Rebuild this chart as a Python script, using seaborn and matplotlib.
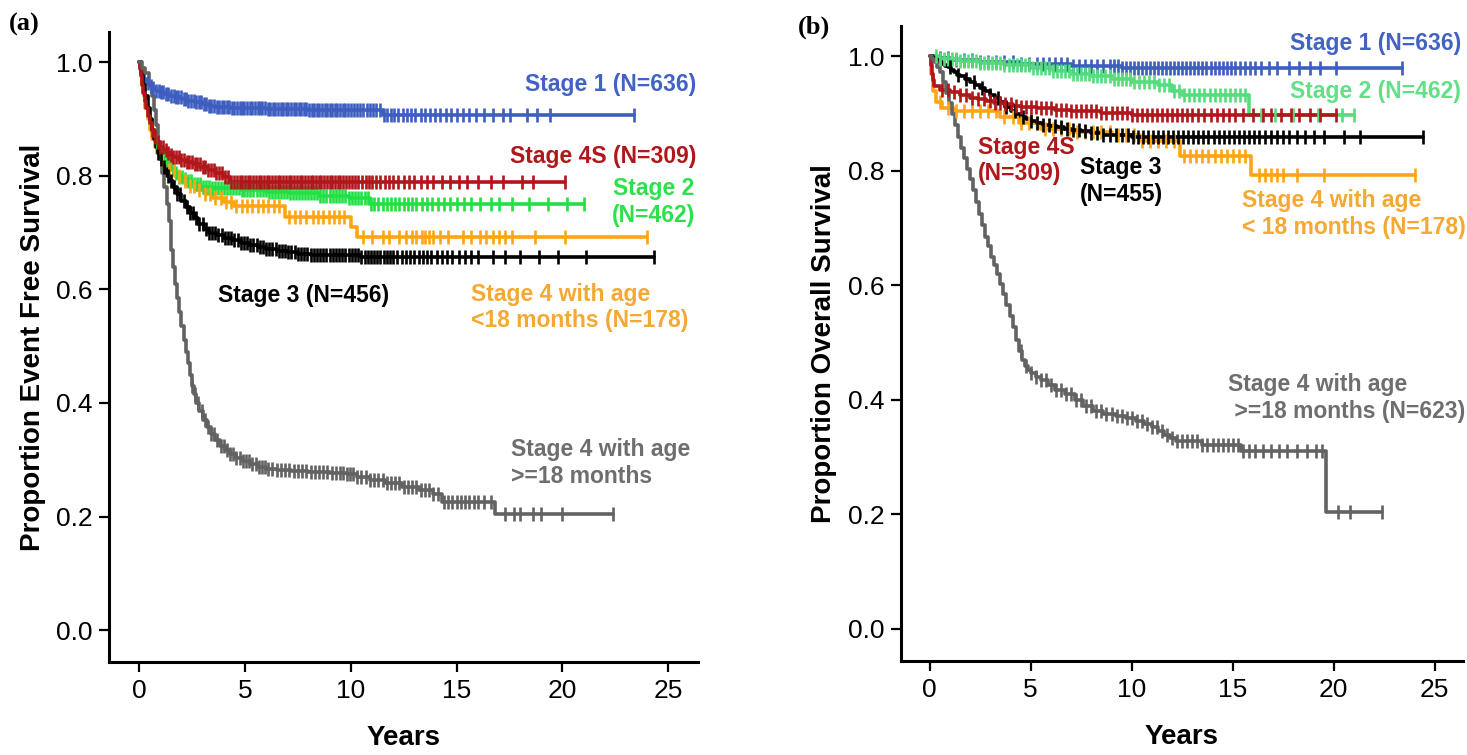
import numpy as np
import matplotlib
matplotlib.use("Agg")
import matplotlib.pyplot as plt
import seaborn as sns

# ---- panel (a): event free survival, step points ----
a_blue_t = [0, 0.05, 0.1, 0.18, 0.25, 0.35, 0.5, 0.65, 0.8, 1.0, 1.2, 1.45, 1.7, 2.0, 2.3, 2.65, 3.0,
            3.3, 3.6, 4.3, 5.0, 6.0, 7.0, 8.0, 9.0, 11.5]
a_blue_s = [1.0, 0.992, 0.985, 0.977, 0.97, 0.964, 0.958, 0.954, 0.95, 0.947, 0.944, 0.941, 0.938,
            0.935, 0.932, 0.929, 0.926, 0.923, 0.921, 0.92, 0.919, 0.918, 0.917, 0.916, 0.915, 0.907]
a_blue_c = [0.42, 0.55, 0.68, 0.8, 0.93, 1.02, 1.15, 1.27, 1.38, 1.5, 1.63, 1.74, 1.86, 1.97, 2.1, 2.22,
            2.33, 2.46, 2.58, 2.7, 2.81, 2.93, 3.06, 3.18, 3.3, 3.41, 3.55, 3.67, 3.78, 3.9, 4.03, 4.15,
            4.27, 4.38, 4.5, 4.63, 4.75, 4.86, 4.98, 5.11, 5.23, 5.35, 5.46, 5.6, 5.72, 5.83, 5.95, 6.08,
            6.2, 6.32, 6.43, 6.57, 6.69, 6.8, 6.92, 7.05, 7.17, 7.3, 7.42, 7.54, 7.66, 7.79, 7.9, 8.02,
            8.15, 8.27, 8.4, 8.52, 8.63, 8.76, 8.88, 9.0, 9.13, 9.25, 9.37, 9.5, 9.62, 9.75, 9.88, 10.0,
            10.15, 10.3, 10.44, 10.6, 10.75, 10.9, 11.05, 11.2, 11.38, 11.55, 11.7, 11.88, 12.05, 12.25,
            12.45, 12.65, 12.85, 13.05, 13.3, 13.5, 13.75, 14.0, 14.2, 14.5, 14.75, 15.0, 15.3, 15.6,
            15.9, 16.3, 16.7, 17.2, 17.5, 18.3, 18.8, 19.4, 23.4]

a_red_t = [0, 0.05, 0.1, 0.15, 0.2, 0.28, 0.35, 0.43, 0.52, 0.62, 0.75, 0.87, 1.0, 1.15, 1.3, 1.45,
           1.6, 1.9, 2.2, 2.55, 2.9, 3.25, 3.6, 3.95, 4.3]
a_red_s = [1.0, 0.988, 0.975, 0.96, 0.945, 0.932, 0.92, 0.906, 0.893, 0.88, 0.868, 0.859, 0.851, 0.845,
           0.84, 0.836, 0.833, 0.828, 0.824, 0.82, 0.816, 0.81, 0.805, 0.797, 0.789]
a_red_c = [0.62, 0.75, 0.88, 1.0, 1.12, 1.25, 1.37, 1.5, 1.62, 1.75, 1.87, 2.0, 2.12, 2.25, 2.38, 2.5,
           2.63, 2.76, 2.88, 3.0, 3.13, 3.26, 3.4, 3.52, 3.65, 3.78, 3.9, 4.05, 4.2, 4.35, 4.5, 4.62, 4.75,
           4.88, 5.0, 5.13, 5.26, 5.4, 5.52, 5.65, 5.78, 5.9, 6.03, 6.16, 6.3, 6.42, 6.55, 6.68, 6.8, 6.93,
           7.06, 7.2, 7.32, 7.45, 7.58, 7.7, 7.83, 7.96, 8.1, 8.22, 8.35, 8.48, 8.6, 8.73, 8.86, 9.0, 9.12,
           9.25, 9.38, 9.5, 9.64, 9.78, 9.9, 10.05, 10.2, 10.36, 10.52, 10.7, 10.86, 11.0, 11.2, 11.4,
           11.6, 11.8, 12.0, 12.25, 12.5, 12.75, 13.0, 13.3, 13.6, 13.9, 14.3, 14.7, 15.1, 15.5, 16.0,
           16.6, 17.2, 18.1, 18.6, 20.1]

a_green_t = [0, 0.08, 0.15, 0.22, 0.3, 0.4, 0.5, 0.62, 0.75, 0.87, 1.0, 1.1, 1.2, 1.35, 1.5, 1.65, 1.8,
             2.05, 2.3, 2.6, 2.9, 3.4, 3.8, 4.8, 6.0, 7.1, 8.5, 9.9, 10.9]
a_green_s = [1.0, 0.98, 0.96, 0.943, 0.925, 0.907, 0.89, 0.875, 0.86, 0.85, 0.84, 0.833, 0.827, 0.82,
             0.812, 0.805, 0.798, 0.794, 0.79, 0.785, 0.781, 0.779, 0.778, 0.775, 0.772, 0.769, 0.765,
             0.76, 0.751]
a_green_c = [0.85, 1.0, 1.15, 1.3, 1.45, 1.6, 1.75, 1.9, 2.03, 2.17, 2.3, 2.45, 2.6, 2.74, 2.88, 3.02,
             3.16, 3.3, 3.44, 3.58, 3.72, 3.86, 4.0, 4.14, 4.28, 4.42, 4.56, 4.7, 4.84, 4.98, 5.12, 5.26,
             5.4, 5.55, 5.7, 5.84, 5.98, 6.12, 6.26, 6.4, 6.55, 6.7, 6.84, 6.98, 7.12, 7.26, 7.4, 7.55,
             7.7, 7.84, 7.98, 8.12, 8.27, 8.42, 8.56, 8.7, 8.85, 9.0, 9.15, 9.3, 9.45, 9.6, 9.75, 9.9,
             10.05, 10.2, 10.35, 10.5, 10.65, 10.8, 10.95, 11.1, 11.3, 11.5, 11.7, 11.9, 12.1, 12.3, 12.5,
             12.7, 12.9, 13.1, 13.35, 13.6, 13.85, 14.1, 14.4, 14.7, 15.0, 15.35, 15.7, 16.1, 16.6, 17.0,
             17.6, 18.4, 19.3, 20.2, 21.0]

a_orange_t = [0, 0.08, 0.15, 0.22, 0.3, 0.4, 0.5, 0.62, 0.75, 0.87, 1.0, 1.2, 1.4, 1.7, 2.0, 2.35, 2.7,
              3.1, 3.5, 4.0, 4.5, 6.9, 10.0, 10.3]
a_orange_s = [1.0, 0.98, 0.96, 0.94, 0.92, 0.9, 0.88, 0.865, 0.85, 0.84, 0.83, 0.82, 0.81, 0.8, 0.79,
              0.782, 0.775, 0.768, 0.76, 0.753, 0.746, 0.728, 0.71, 0.692]
a_orange_c = [1.1, 1.4, 1.65, 1.9, 2.15, 2.4, 2.6, 2.85, 3.1, 3.35, 3.6, 3.85, 4.1, 4.35, 4.6, 4.85,
              5.1, 5.35, 5.6, 5.85, 6.1, 6.35, 6.6, 7.1, 7.35, 7.6, 7.9, 8.2, 8.45, 8.7, 8.95, 9.2, 9.45,
              9.7, 10.6, 11.0, 11.5, 11.8, 12.3, 12.6, 12.9, 13.1, 13.35, 13.5, 13.7, 13.9, 14.2, 14.6,
              15.3, 15.7, 16.1, 16.4, 16.7, 17.0, 17.3, 17.6, 18.7, 20.1, 24.0]

a_black_t = [0, 0.1, 0.2, 0.3, 0.4, 0.5, 0.6, 0.7, 0.8, 0.9, 1.0, 1.15, 1.3, 1.45, 1.6, 1.8, 2.0, 2.2,
             2.4, 2.6, 2.8, 3.05, 3.3, 3.65, 4.0, 4.4, 4.8, 5.2, 5.6, 6.0, 6.5, 7.0, 7.5, 8.1, 8.7, 10.5]
a_black_s = [1.0, 0.98, 0.96, 0.94, 0.92, 0.9, 0.88, 0.865, 0.85, 0.84, 0.83, 0.815, 0.80, 0.79, 0.78,
             0.767, 0.755, 0.745, 0.735, 0.725, 0.715, 0.707, 0.70, 0.695, 0.69, 0.686, 0.682, 0.678,
             0.675, 0.671, 0.668, 0.665, 0.663, 0.661, 0.66, 0.657]
a_black_c = [0.9, 1.05, 1.2, 1.35, 1.5, 1.65, 1.8, 1.95, 2.1, 2.25, 2.4, 2.55, 2.7, 2.85, 3.0, 3.15, 3.3,
             3.45, 3.6, 3.75, 3.9, 4.05, 4.2, 4.35, 4.5, 4.65, 4.8, 4.95, 5.1, 5.25, 5.4, 5.55, 5.7, 5.85,
             6.0, 6.15, 6.3, 6.45, 6.6, 6.75, 6.9, 7.05, 7.2, 7.35, 7.5, 7.65, 7.8, 7.95, 8.1, 8.25, 8.4,
             8.55, 8.7, 8.85, 9.0, 9.15, 9.3, 9.45, 9.6, 9.75, 9.9, 10.05, 10.2, 10.35, 10.5, 10.65, 10.8,
             10.95, 11.1, 11.25, 11.4, 11.55, 11.7, 11.85, 12.0, 12.2, 12.4, 12.6, 12.8, 13.0, 13.2, 13.4,
             13.6, 13.8, 14.05, 14.3, 14.55, 14.8, 15.1, 15.4, 15.7, 16.0, 16.7, 17.3, 18.0, 18.9, 19.8,
             21.1, 24.3]

a_gray_t = [0, 0.15, 0.3, 0.45, 0.6, 0.7, 0.8, 0.9, 1.0, 1.1, 1.2, 1.3, 1.4, 1.5, 1.6, 1.7, 1.8, 1.9,
            2.0, 2.1, 2.2, 2.3, 2.4, 2.5, 2.6, 2.7, 2.85, 3.0, 3.2, 3.4, 3.6, 3.8, 4.05, 4.3, 4.6, 4.9,
            5.25, 5.6, 6.0, 6.5, 7.2, 8.0, 9.0, 9.8, 10.3, 10.9, 11.6, 12.4, 13.2, 13.9, 14.3, 16.8]
a_gray_s = [1.0, 0.99, 0.98, 0.96, 0.94, 0.915, 0.89, 0.86, 0.835, 0.805, 0.78, 0.75, 0.72, 0.67,
            0.64, 0.61, 0.585, 0.56, 0.535, 0.51, 0.49, 0.47, 0.45, 0.43, 0.415, 0.40, 0.385, 0.37,
            0.357, 0.345, 0.335, 0.325, 0.317, 0.31, 0.303, 0.297, 0.292, 0.287, 0.284, 0.282, 0.28,
            0.279, 0.277, 0.275, 0.27, 0.265, 0.259, 0.252, 0.247, 0.24, 0.226, 0.204]
a_gray_c = [2.5, 2.65, 2.8, 2.95, 3.1, 3.25, 3.4, 3.55, 3.7, 3.85, 4.0, 4.15, 4.3, 4.45, 4.6, 4.75, 4.9,
            5.05, 5.2, 5.35, 5.5, 5.65, 5.8, 5.95, 6.1, 6.3, 6.5, 6.7, 6.9, 7.1, 7.3, 7.5, 7.7, 7.9, 8.1,
            8.3, 8.5, 8.7, 8.9, 9.1, 9.3, 9.5, 9.65, 9.8, 9.95, 10.1, 10.3, 10.5, 10.7, 10.9, 11.1, 11.3,
            11.5, 11.7, 11.9, 12.1, 12.3, 12.5, 12.7, 12.9, 13.1, 13.3, 13.5, 13.7, 13.9, 14.1, 14.4,
            14.6, 14.8, 15.0, 15.2, 15.4, 15.6, 15.8, 16.0, 16.3, 16.6, 17.3, 17.7, 18.0, 18.6, 19.0,
            20.0, 22.4]

# ---- panel (b): overall survival ----
b_blue_t = [0, 0.3, 1.0, 2.5, 4.5, 7.0, 9.5]
b_blue_s = [1.0, 0.997, 0.994, 0.99, 0.987, 0.984, 0.979]
b_blue_c = [0.5, 0.9, 1.3, 1.7, 2.1, 2.5, 2.9, 3.3, 3.7, 4.1, 4.5, 4.9, 5.3, 5.6, 5.9, 6.2, 6.5, 6.8,
            7.1, 7.4, 7.7, 8.0, 8.3, 8.6, 8.9, 9.1, 9.3, 9.5, 9.7, 9.9, 10.1, 10.3, 10.5, 10.7, 10.9,
            11.1, 11.3, 11.5, 11.7, 11.9, 12.1, 12.3, 12.5, 12.7, 12.9, 13.1, 13.3, 13.5, 13.7, 13.9,
            14.1, 14.3, 14.5, 14.7, 14.9, 15.1, 15.35, 15.6, 15.85, 16.1, 16.4, 16.8, 17.2, 17.8, 18.3,
            18.8, 19.3, 20.1, 23.4]

b_green_t = [0, 0.5, 1.5, 2.5, 3.7, 5.0, 6.1, 7.0, 8.0, 9.0, 10.0, 11.3, 12.0, 12.5, 15.8]
b_green_s = [1.0, 0.996, 0.992, 0.988, 0.985, 0.98, 0.974, 0.97, 0.965, 0.96, 0.956, 0.95, 0.94, 0.932, 0.898]
b_green_c = [0.3, 0.5, 0.7, 0.9, 1.1, 1.3, 1.5, 1.7, 1.9, 2.1, 2.3, 2.5, 2.7, 2.9, 3.1, 3.3, 3.5, 3.7,
             3.9, 4.1, 4.3, 4.5, 4.7, 4.9, 5.1, 5.3, 5.5, 5.7, 5.9, 6.1, 6.3, 6.5, 6.7, 6.9, 7.1, 7.3,
             7.5, 7.7, 7.9, 8.1, 8.3, 8.5, 8.7, 8.9, 9.1, 9.3, 9.5, 9.7, 9.9, 10.1, 10.35, 10.6, 10.85,
             11.1, 11.35, 11.6, 11.85, 12.1, 12.35, 12.6, 12.85, 13.1, 13.35, 13.6, 13.85, 14.1, 14.35,
             14.6, 14.85, 15.1, 15.35, 15.6, 16.4, 17.1, 18.0, 19.2, 20.4, 21.0]

b_red_t = [0, 0.05, 0.1, 0.15, 0.2, 0.5, 1.0, 1.5, 2.0, 2.4, 2.8, 3.2, 3.7, 4.1, 4.5, 5.3, 6.2, 7.0,
           8.5, 10.0]
b_red_s = [1.0, 0.985, 0.97, 0.958, 0.948, 0.942, 0.938, 0.933, 0.928, 0.925, 0.922, 0.919, 0.916,
           0.914, 0.912, 0.909, 0.906, 0.904, 0.901, 0.898]
b_red_c = [0.6, 0.9, 1.2, 1.5, 1.8, 2.1, 2.4, 2.7, 3.0, 3.25, 3.5, 3.75, 4.0, 4.25, 4.5, 4.75, 5.0,
           5.25, 5.5, 5.75, 6.0, 6.25, 6.5, 6.75, 7.0, 7.25, 7.5, 7.75, 8.0, 8.25, 8.5, 8.75, 9.0, 9.25,
           9.5, 9.75, 10.0, 10.25, 10.5, 10.75, 11.0, 11.25, 11.5, 11.75, 12.0, 12.25, 12.5, 12.75, 13.0,
           13.3, 13.6, 13.9, 14.2, 14.5, 14.8, 15.1, 15.5, 16.0, 16.5, 16.9, 17.4, 17.9, 18.3, 18.8,
           19.3, 20.1]

b_black_t = [0, 0.15, 0.3, 0.45, 0.6, 0.75, 0.9, 1.05, 1.2, 1.35, 1.5, 1.75, 2.0, 2.25, 2.5, 2.75, 3.0,
             3.25, 3.5, 3.75, 4.0, 4.25, 4.5, 4.75, 5.0, 5.3, 5.6, 5.95, 6.3, 6.65, 7.0, 7.5, 8.0, 8.6,
             10.0]
b_black_s = [1.0, 0.997, 0.994, 0.99, 0.987, 0.984, 0.981, 0.977, 0.972, 0.968, 0.965, 0.96, 0.955,
             0.95, 0.945, 0.939, 0.933, 0.927, 0.92, 0.912, 0.905, 0.9, 0.895, 0.891, 0.888, 0.884,
             0.881, 0.878, 0.876, 0.874, 0.872, 0.869, 0.866, 0.862, 0.86]
b_black_c = [1.0, 1.4, 1.8, 2.2, 2.6, 3.0, 3.4, 3.8, 4.2, 4.6, 5.0, 5.3, 5.6, 5.9, 6.2, 6.5, 6.8, 7.1,
             7.4, 7.7, 8.0, 8.3, 8.6, 8.9, 9.2, 9.5, 9.8, 10.05, 10.3, 10.55, 10.8, 11.05, 11.3, 11.55,
             11.8, 12.05, 12.3, 12.55, 12.8, 13.05, 13.3, 13.55, 13.8, 14.05, 14.3, 14.55, 14.8, 15.05,
             15.3, 15.55, 15.8, 16.05, 16.3, 16.6, 16.9, 17.2, 17.5, 17.8, 18.2, 18.6, 19.0, 19.5, 20.5,
             21.3, 24.4]

b_orange_t = [0, 0.05, 0.15, 0.3, 0.6, 1.2, 3.5, 4.4, 5.5, 7.0, 9.0, 10.4, 12.4, 15.9]
b_orange_s = [1.0, 0.97, 0.94, 0.92, 0.91, 0.905, 0.895, 0.884, 0.874, 0.868, 0.862, 0.853, 0.826, 0.793]
b_orange_c = [0.5, 0.9, 1.3, 1.7, 2.1, 2.5, 2.9, 3.3, 3.7, 4.1, 4.5, 4.9, 5.3, 5.7, 6.1, 6.5, 6.9, 7.3,
              7.7, 8.1, 8.5, 8.9, 9.3, 9.7, 10.1, 10.5, 10.9, 11.3, 11.7, 12.1, 12.6, 12.9, 13.2, 13.5,
              13.8, 14.1, 14.4, 14.7, 15.0, 15.3, 15.6, 16.3, 16.6, 16.9, 17.2, 17.5, 18.2, 19.5, 24.0]

b_gray_t = [0, 0.1, 0.2, 0.35, 0.5, 0.65, 0.8, 0.95, 1.1, 1.25, 1.4, 1.55, 1.7, 1.85, 2.0, 2.15, 2.3,
            2.45, 2.6, 2.75, 2.9, 3.05, 3.2, 3.35, 3.5, 3.65, 3.8, 3.95, 4.1, 4.25, 4.4, 4.55, 4.7, 4.85,
            5.0, 5.25, 5.5, 5.85, 6.2, 6.7, 7.2, 7.6, 8.1, 8.6, 9.2, 9.7, 10.2, 10.6, 11.0, 11.3, 11.6,
            11.9, 12.2, 13.5, 15.4, 19.6]
b_gray_s = [1.0, 0.995, 0.99, 0.982, 0.972, 0.955, 0.936, 0.918, 0.9, 0.88, 0.86, 0.84, 0.822, 0.803,
            0.785, 0.767, 0.745, 0.725, 0.705, 0.685, 0.668, 0.65, 0.635, 0.62, 0.603, 0.585, 0.565,
            0.546, 0.527, 0.505, 0.485, 0.47, 0.46, 0.453, 0.447, 0.44, 0.435, 0.426, 0.418, 0.41, 0.40,
            0.39, 0.38, 0.376, 0.372, 0.368, 0.364, 0.358, 0.352, 0.345, 0.338, 0.333, 0.328, 0.322,
            0.31, 0.205]
b_gray_c = [4.5, 4.75, 5.0, 5.25, 5.5, 5.75, 6.0, 6.25, 6.5, 6.75, 7.0, 7.25, 7.5, 7.75, 8.0, 8.25, 8.5,
            8.75, 9.0, 9.25, 9.5, 9.75, 10.0, 10.25, 10.5, 10.75, 11.0, 11.25, 11.5, 11.75, 12.0, 12.25,
            12.5, 12.75, 13.0, 13.25, 13.5, 13.75, 14.0, 14.25, 14.5, 14.75, 15.0, 15.25, 15.5, 15.8,
            16.1, 16.5, 16.9, 17.3, 17.7, 18.2, 18.7, 19.1, 19.4, 20.2, 20.8, 22.4]

x_ticks = [0, 5, 10, 15, 20, 25]
y_ticks = [0.0, 0.2, 0.4, 0.6, 0.8, 1.0]

BLUE = "#3d5ec0"
RED = "#b0161a"
GREEN_A = "#22e044"
GREEN_B = "#55dc7c"
ORANGE = "#ffa514"
BLACK = "#000000"
GRAY = "#626262"

sns.set_style("ticks")
plt.rcParams["font.family"] = ["Liberation Sans", "DejaVu Sans"]
plt.rcParams.update({"axes.edgecolor": "black", "xtick.color": "black", "ytick.color": "black",
                     "axes.labelcolor": "black", "text.color": "black"})


def km_curve(ax, t, s, cens, color):
    # step line runs on to the last censored time
    tt = list(t) + [max(cens)]
    ss = list(s) + [s[-1]]
    sns.lineplot(x=tt, y=ss, ax=ax, color=color, linewidth=2.6,
                 drawstyle="steps-post", estimator=None, sort=False)
    idx = np.searchsorted(np.asarray(t), np.asarray(cens), side="right") - 1
    cy = np.asarray(s)[idx]
    sns.scatterplot(x=cens, y=cy, ax=ax, marker="|", s=100, color=color,
                    linewidth=1.9, zorder=3)


def style_axes(ax, ylabel):
    ax.set_xlim(-1.42, 26.4)
    ax.set_ylim(-0.056, 1.053)
    ax.set_xticks(x_ticks)
    ax.set_yticks(y_ticks)
    ax.set_yticklabels([f"{v:.1f}" for v in y_ticks])
    sns.despine(ax=ax)
    for sp in ("left", "bottom"):
        ax.spines[sp].set_linewidth(2.2)
    ax.tick_params(axis="both", length=7, width=1.6, labelsize=19, pad=5)
    ax.set_xlabel("Years", fontsize=20, fontweight="bold")
    ax.set_ylabel(ylabel, fontsize=20, fontweight="bold")
    ax.xaxis.set_label_coords(0.5, -0.1)
    ax.xaxis.label.set_va("top")


fig = plt.figure(figsize=(14.67, 7.55), dpi=100)
ax_a = fig.add_axes([0.0743, 0.1232, 0.4015, 0.8344])
ax_b = fig.add_axes([0.6142, 0.1245, 0.3831, 0.841])

km_curve(ax_a, a_blue_t, a_blue_s, a_blue_c, BLUE)
km_curve(ax_a, a_green_t, a_green_s, a_green_c, GREEN_A)
km_curve(ax_a, a_orange_t, a_orange_s, a_orange_c, ORANGE)
km_curve(ax_a, a_black_t, a_black_s, a_black_c, BLACK)
km_curve(ax_a, a_red_t, a_red_s, a_red_c, RED)
km_curve(ax_a, a_gray_t, a_gray_s, a_gray_c, GRAY)

km_curve(ax_b, b_blue_t, b_blue_s, b_blue_c, BLUE)
km_curve(ax_b, b_green_t, b_green_s, b_green_c, GREEN_B)
km_curve(ax_b, b_orange_t, b_orange_s, b_orange_c, ORANGE)
km_curve(ax_b, b_black_t, b_black_s, b_black_c, BLACK)
km_curve(ax_b, b_red_t, b_red_s, b_red_c, RED)
km_curve(ax_b, b_gray_t, b_gray_s, b_gray_c, GRAY)

style_axes(ax_a, "Proportion Event Free Survival")
style_axes(ax_b, "Proportion Overall Survival")
ax_a.yaxis.set_label_coords(-0.107, 0.5)
ax_b.yaxis.set_label_coords(-0.114, 0.5)

lab = dict(fontsize=16.5, fontweight="bold", va="center")
ax_a.text(26.3, 0.96, "Stage 1 (N=636)", color="#4262c4", ha="right", **lab)
ax_a.text(26.3, 0.833, "Stage 4S (N=309)", color=RED, ha="right", **lab)
ax_a.text(24.3, 0.754, "Stage 2\n(N=462)", color="#2ee04c", ha="center", **lab)
ax_a.text(7.75, 0.59, "Stage 3 (N=456)", color=BLACK, ha="center", **lab)
ax_a.text(15.66, 0.568, "Stage 4 with age\n<18 months (N=178)", color="#f5a832", ha="left", **lab)
ax_a.text(17.55, 0.294, "Stage 4 with age\n>=18 months", color="#6e6e6e", ha="left", **lab)

ax_b.text(26.3, 1.023, "Stage 1 (N=636)", color="#4262c4", ha="right", **lab)
ax_b.text(26.3, 0.939, "Stage 2 (N=462)", color="#62e088", ha="right", **lab)
ax_b.text(2.38, 0.818, "Stage 4S\n(N=309)", color=RED, ha="left", **lab)
ax_b.text(7.43, 0.782, "Stage 3\n(N=455)", color=BLACK, ha="left", **lab)
ax_b.text(15.45, 0.725, "Stage 4 with age\n< 18 months (N=178)", color="#f5a832", ha="left", **lab)
ax_b.text(14.75, 0.403, "Stage 4 with age\n >=18 months (N=623)", color="#6e6e6e", ha="left", **lab)

fig.text(0.006, 0.983, "(a)", fontsize=19, fontweight="bold", va="top", ha="left",
         family=["Liberation Serif", "DejaVu Serif"])
fig.text(0.544, 0.98, "(b)", fontsize=19, fontweight="bold", va="top", ha="left",
         family=["Liberation Serif", "DejaVu Serif"])

fig.savefig("out.png", dpi=100)
plt.close(fig)
